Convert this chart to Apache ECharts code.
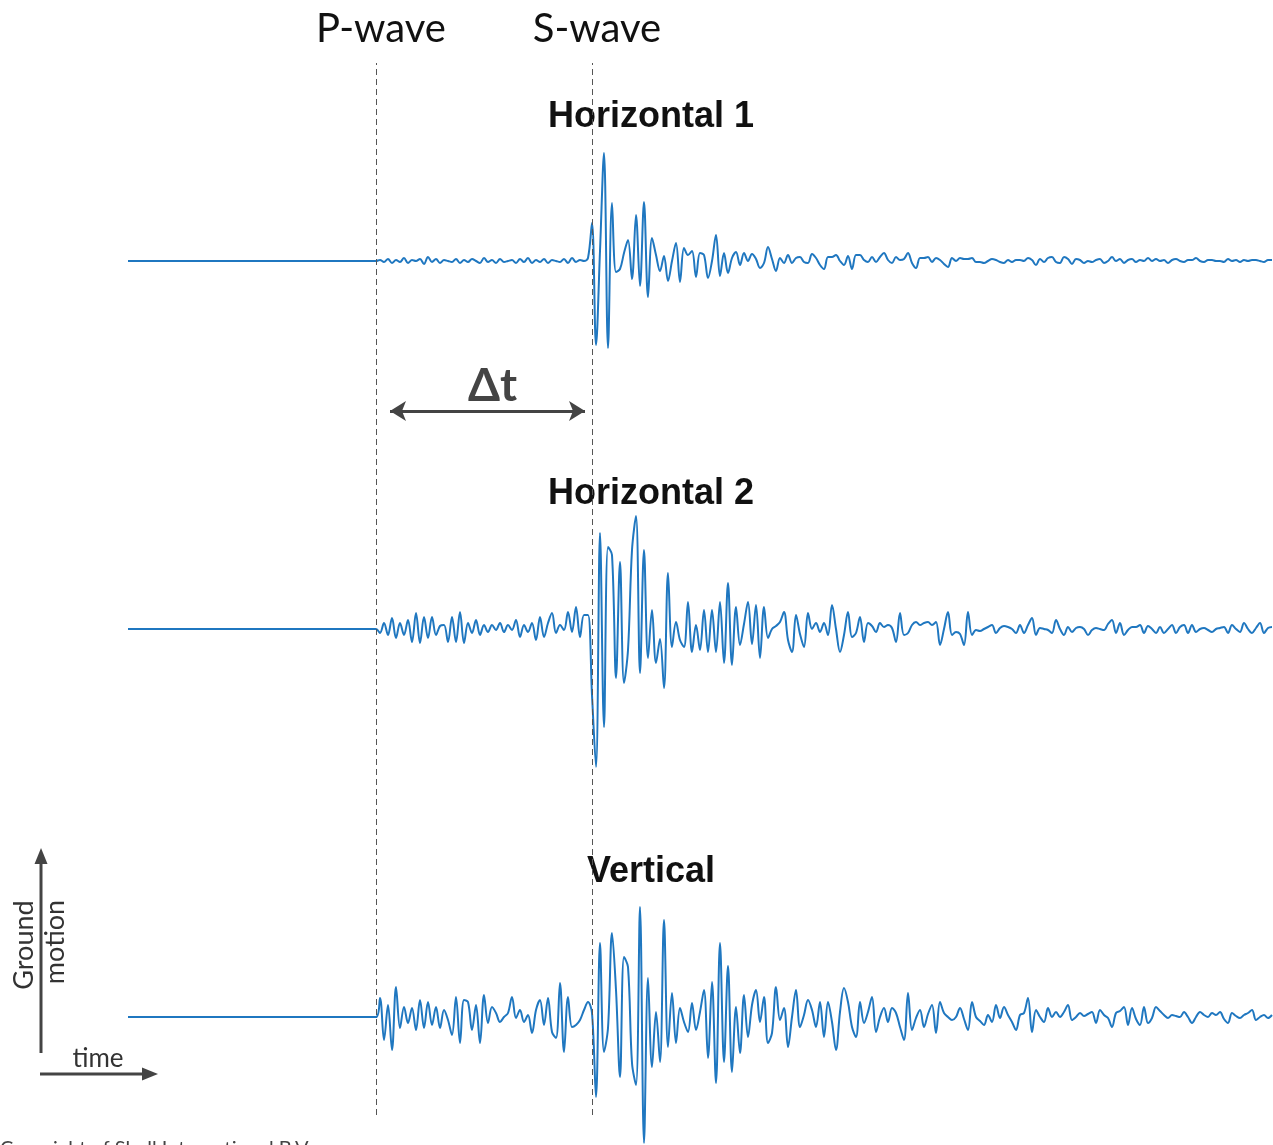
<!DOCTYPE html>
<html><head><meta charset="utf-8">
<script src="https://cdn.jsdelivr.net/npm/echarts@6/dist/echarts.min.js"></script>
<style>html,body{margin:0;padding:0;background:#fff}#c{width:1273px;height:1145px}</style>
</head><body><div id="c"></div>
<script>
// time axis (seconds)
const T_END = 57.25;
const T_P = 12.4;     // P-wave arrival
const T_S = 23.2;     // S-wave arrival
const DT = 0.2;       // sample interval after P arrival
const phaseLabels = ['P-wave', 'S-wave'];
const traceNames = ['Horizontal 1', 'Horizontal 2', 'Vertical'];
const deltaLabel = '\u0394t';
const axisLabels = ['Ground', 'motion', 'time'];
const copyright = 'Copyright of Shell International B.V.';

// ground motion samples (from P arrival, every DT seconds)
const horizontal1 = [
  0,1,-1,2,-2,1,-1,3,-2,1,
  0,2,-3,4,-1,2,-2,1,0,-1,
  2,-2,1,-1,2,0,-2,3,-1,1,
  -2,2,-1,0,1,-2,2,-1,3,-2,
  1,-1,2,-2,1,0,-1,2,-2,3,
  -1,1,0,3,38,-84,10,108,-87,58,
  -11,-8,8,21,-18,46,-25,59,-36,23,
  6,-10,5,-20,0,18,-21,13,6,10,
  -16,8,6,-17,0,26,-15,8,-12,3,
  9,-4,8,0,7,2,-7,-2,14,2,
  -10,3,-2,6,-2,3,4,-1,-2,7,
  3,-4,-8,4,4,6,0,-4,5,-8,
  6,6,1,-1,4,-1,4,8,1,-2,
  4,1,2,8,-2,-7,3,3,4,-1,
  3,1,-3,-6,3,0,3,2,2,3,
  -1,-1,-2,0,2,1,-1,-2,1,-1,
  1,1,0,3,1,-4,2,-1,3,4,
  -1,-2,4,2,-3,2,1,-2,0,-1,
  1,2,-2,0,4,0,2,-2,1,2,
  -1,1,0,3,0,2,0,1,-2,1,
  2,0,-1,1,1,3,0,-1,1,1,
  0,0,-1,2,0,1,-1,1,0,1,
  1,0,-1,1,1
];
const horizontal2 = [
  0,-4,6,-6,11,-9,6,-6,9,-13,
  16,-14,12,-9,12,-6,3,4,-13,12,
  -13,17,-14,6,-4,9,-6,4,-3,4,
  -1,6,-3,4,-1,9,-8,4,-3,6,
  -11,12,-8,6,16,-4,4,-1,17,-3,
  22,-8,14,14,-66,-138,96,-98,82,74,
  -49,67,-54,-21,79,113,-44,79,-29,19,
  -34,-10,-59,56,-18,7,-11,-18,27,-23,
  4,-21,19,-23,19,-23,27,-34,46,-36,
  22,-16,5,27,-15,24,-29,22,-9,0,
  3,7,17,-11,-23,14,-5,-18,16,0,
  6,-3,6,-6,24,0,-23,-6,17,-8,
  -4,12,-13,6,3,-3,6,2,4,1,
  -13,16,-6,-4,4,7,4,6,7,4,
  7,-16,0,17,-6,-3,-5,-16,17,-6,
  -1,-2,0,2,4,-4,1,3,2,0,
  -4,4,-4,4,11,-6,1,0,-1,-4,
  9,0,-6,2,-3,1,2,0,-6,-1,
  1,0,-1,5,9,-4,6,-6,-1,2,
  2,4,-4,3,0,-4,2,-4,0,4,
  -4,2,4,-4,4,-3,0,1,-1,-3,
  0,1,2,-4,4,0,-3,6,0,-4,
  1,6,-4,1,2
];
const vertical = [
  0,19,-23,12,-33,30,-11,10,-6,9,
  -13,17,-11,15,-8,10,-11,7,-3,-18,
  20,-26,17,15,-13,12,-26,22,-6,10,
  4,-5,0,4,20,-1,7,-5,2,-16,
  7,17,-8,19,-15,-21,34,-35,20,-10,
  -8,-3,7,15,4,-80,74,-35,-11,84,
  27,-60,60,50,-46,-68,110,-126,39,-50,
  5,-45,97,-30,24,-26,9,-5,-15,14,
  -13,5,27,-41,35,-66,74,-45,51,-55,
  10,-36,22,-20,12,27,-5,20,-26,-16,
  30,-3,9,-30,0,27,-10,2,17,7,
  -10,15,-20,15,-5,-33,5,29,15,-10,
  -20,15,-6,5,20,-15,0,9,-5,9,
  4,-10,-23,24,-13,-1,7,-10,3,12,
  -16,15,4,0,-3,0,9,-2,-13,15,
  0,-4,-8,2,-5,12,-1,10,2,-5,
  -13,2,4,19,-15,7,0,-5,9,0,
  5,0,5,12,-3,0,4,1,3,5,
  -6,7,2,-1,-10,4,6,10,-8,9,
  -2,-8,10,-6,-1,10,6,2,-1,2,
  1,0,5,0,-6,0,5,2,0,4,
  2,5,-2,-6,4,1,-1,2,4,7,
  -3,0,2,-1,2
];

const traces = [horizontal1, horizontal2, vertical];
function toSeries(arr) {
  const d = [[0, 0]];
  arr.forEach((v, i) => d.push([+(T_P + i * DT).toFixed(2), v]));
  return d;
}

const BLUE = '#1f77c0';
const gridLayout = [
  { top: 111, height: 300, r: 150 },
  { top: 479, height: 300, r: 150 },
  { top: 889, height: 256, r: 128 }
];
const grids = gridLayout.map(g => ({ left: 128, right: 0, top: g.top, height: g.height }));
grids.push({ left: 128, right: 0, top: 63, height: 1052 });
const xAxes = grids.map((g, i) => ({ type: 'value', gridIndex: i, min: 0, max: T_END, show: false }));
const yAxes = gridLayout.map((g, i) => ({ type: 'value', gridIndex: i, min: -g.r, max: g.r, show: false }));
yAxes.push({ type: 'value', gridIndex: 3, min: 0, max: 100, show: false });

const series = traces.map((arr, i) => ({
  type: 'line', xAxisIndex: i, yAxisIndex: i, data: toSeries(arr),
  showSymbol: false, symbol: 'none', clip: false, silent: true, smooth: 0.35,
  lineStyle: { color: BLUE, width: 2, join: 'round' }
}));
series.push({
  type: 'line', xAxisIndex: 3, yAxisIndex: 3, data: [], silent: true,
  markLine: {
    silent: true, symbol: 'none', animation: false,
    lineStyle: { type: [6, 4], color: '#555', width: 1 },
    label: { show: true, position: 'end', formatter: '{b}', fontFamily: 'Lato', fontSize: 40, color: '#111', distance: 14, offset: [5, 0] },
    data: [{ xAxis: T_P, name: phaseLabels[0] }, { xAxis: T_S, name: phaseLabels[1] }]
  }
});
series.push({
  type: 'line', xAxisIndex: 3, yAxisIndex: 3, data: [], silent: true,
  markLine: {
    silent: true, symbol: ['arrow', 'arrow'], symbolSize: [15, 16], animation: false,
    lineStyle: { type: 'solid', color: '#444', width: 3 },
    label: { show: true, position: 'middle', formatter: deltaLabel, fontFamily: 'Lato', fontWeight: 'bold', fontSize: 46, color: '#444', distance: 2, offset: [5, 0] },
    data: [[{ coord: [13.1, 66.92] }, { coord: [22.85, 66.92] }]]
  }
});

const titleX = 651;
const titleY = [117, 494, 872];
const graphic = traceNames.map((n, i) => ({
  type: 'text', x: titleX, y: titleY[i],
  style: { text: n, fontFamily: 'Liberation Sans, Arial', fontWeight: 'bold', fontSize: 36, fill: '#111', align: 'center', verticalAlign: 'middle' }
}));
graphic.push(
  { type: 'line', shape: { x1: 41, y1: 1053, x2: 41, y2: 862 }, style: { stroke: '#444', lineWidth: 3 } },
  { type: 'polygon', shape: { points: [[41, 848], [34.5, 864], [47.5, 864]] }, style: { fill: '#444' } },
  { type: 'line', shape: { x1: 40, y1: 1074, x2: 143, y2: 1074 }, style: { stroke: '#444', lineWidth: 3 } },
  { type: 'polygon', shape: { points: [[158, 1074], [142, 1067.5], [142, 1080.5]] }, style: { fill: '#444' } },
  { type: 'text', x: 24, y: 945, rotation: Math.PI / 2, style: { text: axisLabels[0], fontFamily: 'Lato', fontSize: 27, fill: '#333', align: 'center', verticalAlign: 'middle' } },
  { type: 'text', x: 55, y: 942, rotation: Math.PI / 2, style: { text: axisLabels[1], fontFamily: 'Lato', fontSize: 27, fill: '#333', align: 'center', verticalAlign: 'middle' } },
  { type: 'text', x: 98, y: 1059, style: { text: axisLabels[2], fontFamily: 'Lato', fontSize: 26, fill: '#333', align: 'center', verticalAlign: 'middle' } },
  { type: 'text', x: 0, y: 1139, style: { text: copyright, fontFamily: 'Lato', fontSize: 20, fill: '#444', align: 'left', verticalAlign: 'top' } }
);

const chart = echarts.init(document.getElementById('c'), null, { renderer: 'canvas' });
chart.setOption({
  animation: false,
  backgroundColor: '#fff',
  grid: grids, xAxis: xAxes, yAxis: yAxes,
  series: series,
  graphic: graphic
});
</script></body></html>
